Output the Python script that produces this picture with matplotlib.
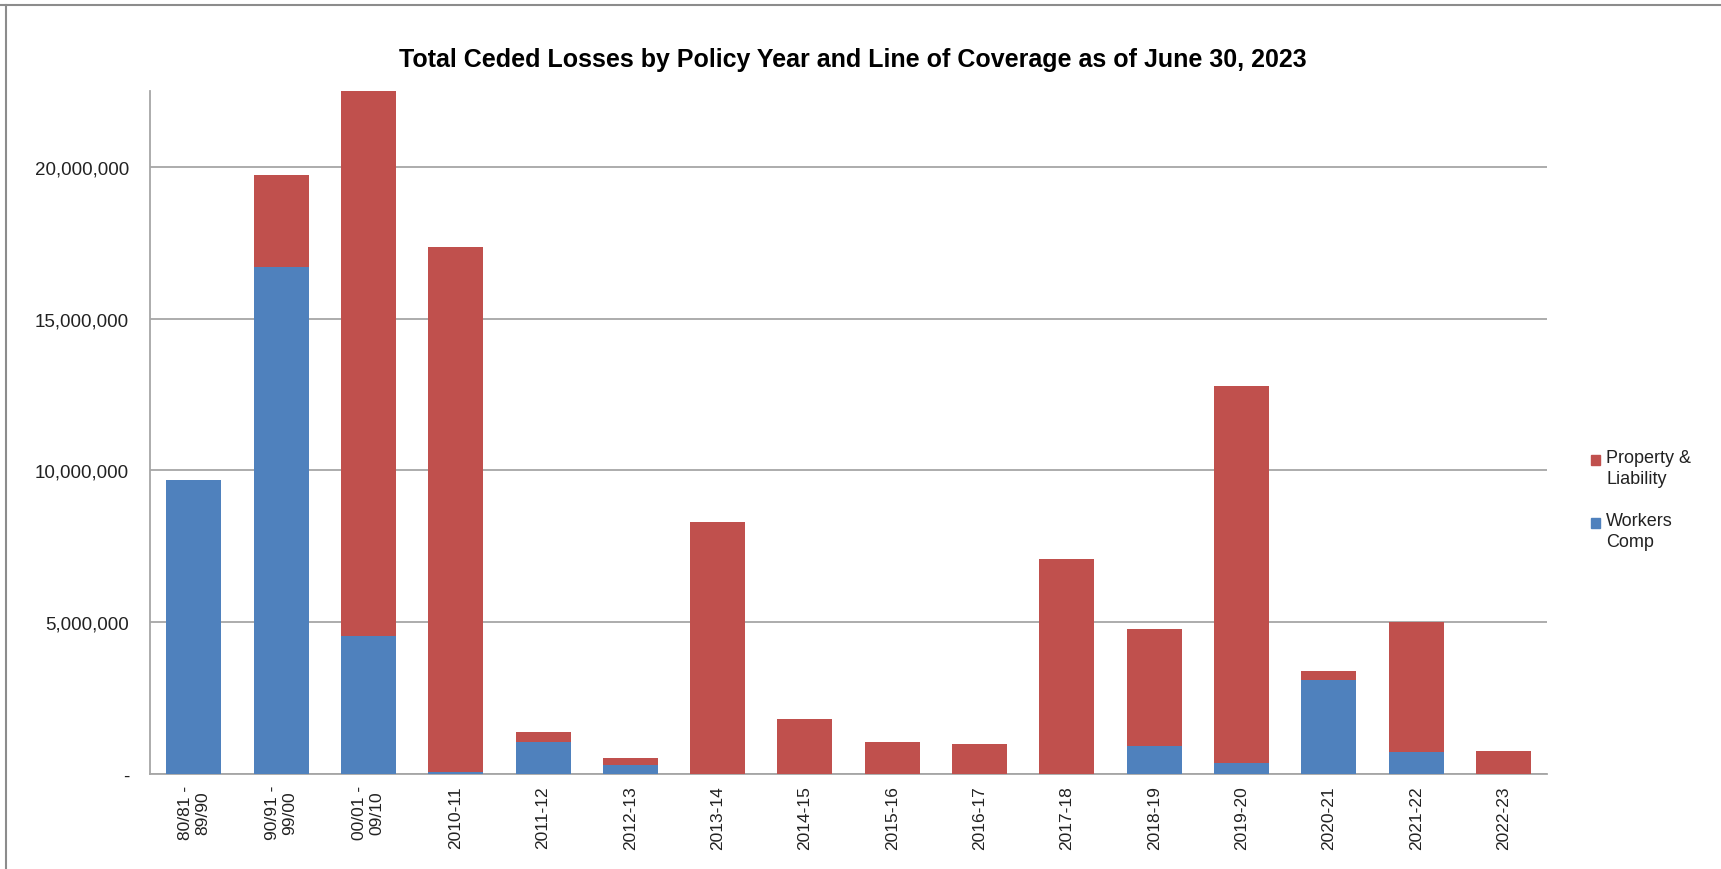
import matplotlib.pyplot as plt
from matplotlib.lines import Line2D
from matplotlib.ticker import FuncFormatter
import numpy as np

policy_years = ["80/81 -\n89/90", "90/91 -\n99/00", "00/01 -\n09/10", "2010-11",
                "2011-12", "2012-13", "2013-14", "2014-15", "2015-16", "2016-17",
                "2017-18", "2018-19", "2019-20", "2020-21", "2021-22", "2022-23"]
workers_comp = [9_700_000, 16_690_000, 4_530_000, 60_000, 1_040_000, 310_000,
                0, 0, 0, 0, 0, 930_000, 360_000, 3_100_000, 730_000, 0]
property_liability = [0, 3_030_000, 18_000_000, 17_300_000, 340_000, 210_000,
                      8_290_000, 1_800_000, 1_050_000, 980_000, 7_080_000,
                      3_860_000, 12_410_000, 280_000, 4_270_000, 770_000]
y_ticks = [0, 5_000_000, 10_000_000, 15_000_000, 20_000_000]

RED = "#C0504D"
BLUE = "#4F81BD"
GRID = "#A6A6A6"
narrow = ["Liberation Sans Narrow", "Liberation Sans", "DejaVu Sans"]
plt.rcParams["font.family"] = ["Liberation Sans", "DejaVu Sans"]

fig = plt.figure(figsize=(17.21, 8.70), dpi=100)
ax = fig.add_axes([0.0872, 0.1092, 0.8118, 0.7851])

x = np.arange(len(policy_years))
ax.bar(x, workers_comp, width=0.63, color=BLUE, zorder=3)
ax.bar(x, property_liability, width=0.63, bottom=workers_comp, color=RED, zorder=3)

ax.set_xlim(-0.5, len(policy_years) - 0.5)
ax.set_ylim(0, 22_500_000)
ax.set_yticks(y_ticks)
ax.yaxis.set_major_formatter(FuncFormatter(lambda v, p: "-" if v == 0 else f"{v:,.0f}"))
for lbl in ax.get_yticklabels():
    lbl.set_family(narrow)
ax.tick_params(axis="y", length=0, pad=15, labelsize=13.5, labelcolor="#222222")
ax.set_xticks(x)
ax.set_xticklabels(policy_years, rotation=90, fontsize=12.5, color="#222222")
ax.tick_params(axis="x", length=0, pad=8)

ax.grid(axis="y", color=GRID, linewidth=1.3, zorder=0)
for side in ("top", "right"):
    ax.spines[side].set_visible(False)
for side in ("left", "bottom"):
    ax.spines[side].set_color(GRID)
    ax.spines[side].set_linewidth(1.3)

fig.text(0.4955, 0.931, "Total Ceded Losses by Policy Year and Line of Coverage as of June 30, 2023",
         ha="center", va="center", fontsize=18, fontweight="bold", family=narrow)

# legend on the right, swatch next to the first line of each label
legend_items = [("Property &\nLiability", RED), ("Workers\nComp", BLUE)]
for i, (label, color) in enumerate(legend_items):
    y_top = 0.476 - i * 0.072
    fig.patches.append(plt.Rectangle((1591 / 1721, y_top - 0.0115), 9 / 1721, 0.0115,
                                     transform=fig.transFigure, color=color))
    fig.text(1606 / 1721, y_top + 0.0065, label, ha="left", va="top",
             fontsize=13, color="#222222", linespacing=1.3)

# frame edges along the top and left
fig.add_artist(Line2D([0, 1], [0.9935, 0.9935], color="#8C8C8C", linewidth=1.5,
                      transform=fig.transFigure))
fig.add_artist(Line2D([0.0037, 0.0037], [0, 0.9935], color="#8C8C8C", linewidth=1.5,
                      transform=fig.transFigure))

fig.savefig("out.png", dpi=100, facecolor="white")
plt.close(fig)
